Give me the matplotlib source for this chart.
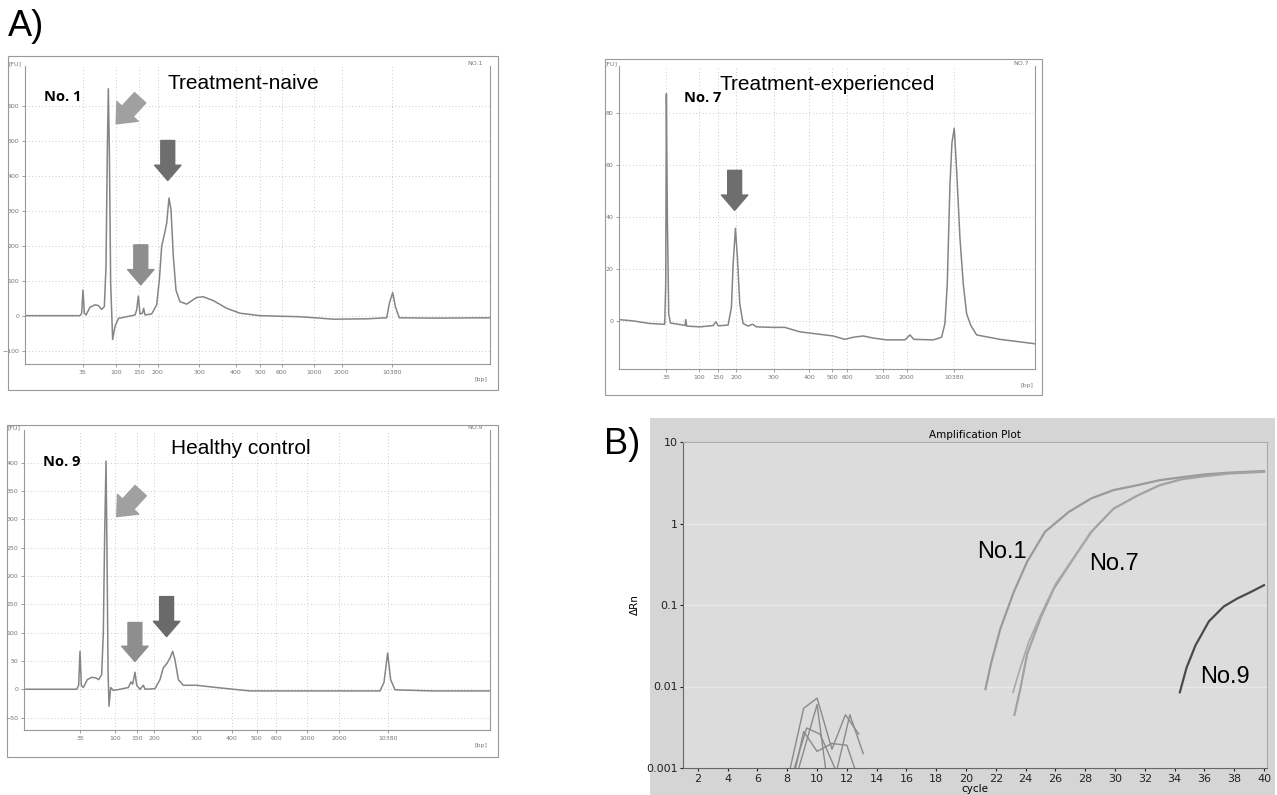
import matplotlib
matplotlib.use("Agg")
import matplotlib.pyplot as plt
from matplotlib.patches import Rectangle

W, H = 1277, 795

# ---- panel A data: migration position (0-100 along axis) vs fluorescence [FU]
bp_labels = ["35", "100", "150", "200", "300", "400", "500", "600", "1000", "2000", "10380"]

no1_ticks = [12.40, 19.57, 24.59, 28.53, 37.42, 45.38, 50.54, 55.20, 62.22, 68.10, 79.00]
no1_pos = [0, 11.83, 12.19, 12.47, 12.76, 13.12, 13.98, 15.05, 15.77, 16.49, 17.06, 17.42, 17.71,
           17.92, 18.14, 18.42, 18.85, 19.35, 20.07, 21.86, 23.66, 24.01, 24.37, 24.73, 25.23,
           25.52, 25.81, 27.24, 28.32, 28.89, 29.39, 29.96, 30.47, 30.97, 31.40, 31.90, 32.47,
           33.33, 34.77, 36.92, 38.35, 40.50, 43.37, 46.24, 50.54, 59.14, 66.31, 73.48, 77.78,
           78.35, 79.07, 79.64, 80.50, 87.81, 100]
no1_fu = [0, 0, 7, 73, 7, 2, 24, 31, 29, 18, 26, 140, 474,
          648, 474, 93, -68, -31, -8, -3, 2, 16, 56, 5, 7,
          21, 2, 5, 31, 102, 198, 231, 264, 336, 302, 169, 73,
          40, 33, 52, 54, 43, 21, 7, 0, -3, -10, -9, -6,
          35, 66, 26, -6, -7, -6]

no7_ticks = [11.39, 19.17, 23.82, 28.23, 37.21, 45.71, 51.24, 54.85, 63.35, 69.13, 80.59]
no7_pos = [0, 3.37, 7.38, 10.99, 11.23, 11.39, 11.63, 11.95, 12.35, 15.40, 15.88, 16.04, 16.28,
           19.41, 22.61, 23.26, 23.90, 26.22, 27.03, 27.43, 27.99, 28.47, 29.03, 29.83, 31.03,
           32.08, 33.04, 37.05, 39.86, 43.46, 47.47, 51.48, 54.29, 56.30, 58.70, 61.11, 64.31,
           68.73, 69.93, 70.89, 75.54, 77.55, 78.35, 78.91, 79.55, 80.03, 80.59, 81.15, 81.96,
           82.76, 83.56, 84.52, 85.97, 91.58, 100]
no7_fu = [0.5, 0, -1.0, -1.3, 14, 87.3, 39, 2.8, -0.8, -1.6, -1.8, 0.5, -2.0,
          -2.3, -1.8, -0.4, -1.9, -1.6, 5.3, 21.7, 35.6, 24.2, 6.6, -1.0, -2.0,
          -1.3, -2.3, -2.5, -2.5, -4.2, -5.0, -5.8, -7.1, -6.3, -5.8, -6.6, -7.3,
          -7.3, -5.4, -7.1, -7.3, -6.3, -1.0, 14.1, 52, 68.4, 74.1, 58.3, 31.8,
          14.1, 2.8, -1.6, -5.4, -7.1, -8.8]

no9_ticks = [12.02, 19.53, 24.18, 27.97, 37.05, 44.56, 49.93, 54.08, 60.66, 67.67, 78.04]
no9_pos = [0, 11.30, 11.73, 12.02, 12.30, 12.73, 13.59, 14.52, 15.45, 16.02, 16.67, 17.02, 17.31,
           17.60, 17.81, 18.03, 18.24, 18.60, 19.17, 20.60, 22.39, 22.96, 23.32, 23.82, 24.18,
           24.89, 25.61, 25.97, 28.11, 29.18, 29.90, 30.62, 31.33, 31.90, 32.40, 33.12, 34.19,
           37.05, 41.35, 48.50, 59.23, 76.39, 77.25, 78.04, 78.68, 79.61, 87.84, 100]
no9_fu = [0, 0, 7, 67, 7, 3, 17, 21, 20, 17, 26, 99, 272,
          403, 243, 35, -30, 3, -2, 0, 3, 13, 9, 30, 7,
          0, 7, 0, 1, 17, 38, 45, 55, 67, 52, 17, 7,
          7, 3, -3, -3, -3, 12, 64, 17, -1, -3, -3]

# ---- panel B data: amplification plot (cycle vs delta Rn)
s1_cycle = [21.3, 21.7, 22.3, 23.2, 24.1, 25.3, 26.9, 28.4, 29.9, 31.5, 33.0, 34.5, 36.0, 37.6, 40.0]
s1_rn = [0.0093, 0.020, 0.051, 0.144, 0.34, 0.79, 1.39, 2.03, 2.57, 2.95, 3.4, 3.7, 4.0, 4.2, 4.4]
s7_cycle = [23.25, 23.65, 24.1, 25.0, 25.9, 27.2, 28.4, 29.9, 31.5, 33.0, 34.5, 36.0, 37.6, 40.0]
s7_rn = [0.0045, 0.0095, 0.025, 0.069, 0.16, 0.37, 0.79, 1.52, 2.2, 2.95, 3.5, 3.8, 4.1, 4.3]
s7b_cycle = [23.15, 23.6, 24.2, 25.0, 26.0, 27.3, 28.5]
s7b_rn = [0.0085, 0.016, 0.035, 0.075, 0.18, 0.40, 0.82]
s9_cycle = [34.35, 34.8, 35.4, 36.3, 37.3, 38.2, 39.1, 40.0]
s9_rn = [0.0085, 0.017, 0.032, 0.063, 0.096, 0.12, 0.144, 0.175]
noise_cycle = [[8.2, 9.1, 10.0, 11.0, 11.9, 12.8],
               [8.5, 9.1, 10.0, 11.0, 12.0, 12.6],
               [8.7, 10.0, 10.6],
               [8.4, 9.3, 10.2, 11.3],
               [11.3, 12.2, 13.1]]
noise_rn = [[0.001, 0.0054, 0.0072, 0.0017, 0.0045, 0.0026],
            [0.0009, 0.0028, 0.0016, 0.0020, 0.0019, 0.0009],
            [0.0009, 0.0060, 0.0009],
            [0.0009, 0.0031, 0.0026, 0.0009],
            [0.0009, 0.0045, 0.0015]]
cycle_ticks = list(range(2, 41, 2))

fig = plt.figure(figsize=(W / 100, H / 100), dpi=100)
fig.patch.set_facecolor("white")


def box(x0, y0, x1, y1, z=1, **kw):
    r = Rectangle((x0 / W, 1 - y1 / H), (x1 - x0) / W, (y1 - y0) / H,
                  transform=fig.transFigure, zorder=z, **kw)
    fig.patches.append(r)


def axes_px(x0, y0, x1, y1):
    return fig.add_axes([x0 / W, 1 - y1 / H, (x1 - x0) / W, (y1 - y0) / H])


def bio_panel(px, ticks, pos, fu, ylim, yt, tag, no, title, title_x, no_x):
    ax = axes_px(*px)
    ax.set_facecolor("white")
    ax.plot(pos, fu, color="#858585", lw=1.1)
    ax.set_xlim(0, 100)
    ax.set_ylim(*ylim)
    ax.set_xticks(ticks)
    ax.set_xticklabels(bp_labels)
    ax.set_yticks(yt)
    ax.tick_params(labelsize=4.5, colors="#777", length=2, width=0.5, pad=2)
    ax.grid(True, ls=(0, (1, 3)), color="#bbbbbb", lw=0.6)
    ax.spines["top"].set_visible(False)
    for s in ["left", "bottom", "right"]:
        ax.spines[s].set_color("#999")
        ax.spines[s].set_linewidth(0.8)
    ax.text(-0.035, 1.0, "[FU]", transform=ax.transAxes, fontsize=4.5, color="#777",
            ha="left", va="bottom")
    ax.text(0.995, -0.045, "[bp]", transform=ax.transAxes, fontsize=4.5, color="#777",
            ha="right", va="top")
    ax.text(0.985, 1.0, tag, transform=ax.transAxes, fontsize=4.5, color="#777",
            ha="right", va="bottom")
    ax.text(title_x, 0.94, title, transform=ax.transAxes, fontsize=15,
            family="Liberation Sans", ha="center", va="center")
    ax.text(no_x, 0.895, no, transform=ax.transAxes, fontsize=10.5, weight="bold",
            family="Open Sans", ha="center", va="center")
    return ax


def block_arrow(ax, tip, off, color, size=10):
    ax.annotate("", xy=tip, xytext=off, textcoords="offset pixels",
                arrowprops=dict(arrowstyle="simple,head_length=1.1,head_width=1.9,tail_width=1.0",
                                fc=color, ec=color, mutation_scale=size,
                                shrinkA=0, shrinkB=0))


# panel 1
box(8, 56, 498, 390, fill=False, ec="#999", lw=0.8)
ax1 = bio_panel((25, 66, 490, 364), no1_ticks, no1_pos, no1_fu, (-138, 713),
                range(-100, 601, 100), "NO.1", "No. 1", "Treatment-naive", 0.47, 0.08)
block_arrow(ax1, (30.7, 386), (0, 40), "#6e6e6e")
block_arrow(ax1, (24.9, 88), (0, 40), "#8e8e8e")
block_arrow(ax1, (19.6, 548), (24, 26), "#a0a0a0", size=11)

# panel 2
box(605, 59, 1042, 395, fill=False, ec="#999", lw=0.8)
ax2 = bio_panel((619, 66, 1035, 369), no7_ticks, no7_pos, no7_fu, (-18.5, 98),
                range(0, 81, 20), "NO.7", "No. 7", "Treatment-experienced", 0.5, 0.2)
block_arrow(ax2, (27.8, 42.5), (0, 40), "#6e6e6e")

# panel 3
box(7, 425, 498, 757, fill=False, ec="#999", lw=0.8)
ax3 = bio_panel((24, 430, 490, 730), no9_ticks, no9_pos, no9_fu, (-72, 458),
                range(-50, 401, 50), "NO.9", "No. 9", "Healthy control", 0.465, 0.08)
block_arrow(ax3, (23.8, 49), (0, 39), "#8e8e8e")
block_arrow(ax3, (30.6, 93), (0, 40), "#6a6a6a")
block_arrow(ax3, (19.9, 305), (24, 26), "#a0a0a0", size=11)

# panel B
box(650, 418, 1275, 795, z=-5, fc="#d5d5d5", ec="none")
axb = axes_px(683, 442, 1267, 768)
axb.set_facecolor("#dcdcdc")
axb.set_yscale("log")
axb.set_ylim(0.001, 10)
axb.set_xlim(1, 40.2)
axb.set_xticks(cycle_ticks)
axb.set_yticks([0.001, 0.01, 0.1, 1, 10])
axb.set_yticklabels(["0.001", "0.01", "0.1", "1", "10"])
axb.minorticks_off()
axb.grid(True, axis="y", color="#e8e8e8", lw=1.0)
axb.tick_params(labelsize=8, length=2, pad=2, colors="#222")
for s in ["left", "bottom"]:
    axb.spines[s].set_color("#666")
for s in ["top", "right"]:
    axb.spines[s].set_color("#aaa")
for cx, cy in zip(noise_cycle, noise_rn):
    axb.plot(cx, cy, color="#8a8a8a", lw=1.0)
axb.plot(s1_cycle, s1_rn, color="#9a9a9a", lw=1.6)
axb.plot(s7_cycle, s7_rn, color="#a2a2a2", lw=1.6)
axb.plot(s7b_cycle, s7b_rn, color="#a8a8a8", lw=1.2)
axb.plot(s9_cycle, s9_rn, color="#4a4a4a", lw=1.6)
axb.text(22.4, 0.45, "No.1", fontsize=17, family="Liberation Sans", ha="center", va="center")
axb.text(29.9, 0.32, "No.7", fontsize=17, family="Liberation Sans", ha="center", va="center")
axb.text(37.4, 0.013, "No.9", fontsize=17, family="Liberation Sans", ha="center", va="center")
axb.set_title("Amplification Plot", fontsize=7.5, pad=3)
axb.set_xlabel("cycle", fontsize=7.5, labelpad=0)
axb.set_ylabel("\u0394Rn", fontsize=7.5, labelpad=4)

fig.text(8 / W, 1 - 26 / H, "A)", fontsize=26, family="Liberation Sans", va="center")
fig.text(604 / W, 1 - 445 / H, "B)", fontsize=26, family="Liberation Sans", va="center")

fig.savefig("out.png", dpi=100)
